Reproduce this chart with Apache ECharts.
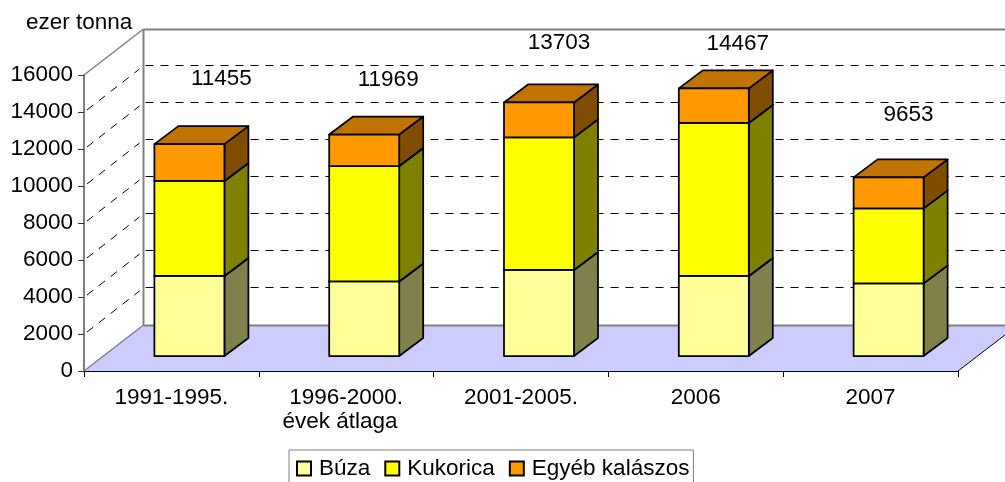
<!DOCTYPE html>
<html>
<head>
<meta charset="utf-8">
<style>html,body{margin:0;padding:0;background:#fff}#c{width:1005px;height:482px}</style>
<script src="https://cdn.jsdelivr.net/npm/echarts@6/dist/echarts.min.js"></script>
</head>
<body>
<div id="c"></div>
<script>
const categories = ['1991-1995.', '1996-2000.\névek átlaga  ', '2001-2005.', '2006', '2007'];
const buza = [4325, 4030, 4650, 4325, 3925];
const kukorica = [5135, 6240, 7165, 8270, 4055];
const egyeb = [1995, 1699, 1888, 1872, 1673];
const totals = [11455, 11969, 13703, 14467, 9653];
const yTicks = [0, 2000, 4000, 6000, 8000, 10000, 12000, 14000, 16000];

const FONT = '"Liberation Sans", Arial, sans-serif';
const FS = 22.5;
const WALL = [60, 46];       // depth of the chart box
const BAR_FRONT = [18, 15];  // shift of a bar's front face from the front edge
const BAR_DEPTH = [24, 18];  // depth of a bar
const BAR_W = 70;
const LABEL_SHIFT = [[50, -80], [42, -70], [38, -74.5], [42, -60], [38, -77.5]];

function wallItem(params, api) {
  const v = api.value(0);
  const c = params.coordSys;
  const y = api.coord([0, v])[1];
  const yZero = api.coord([0, 0])[1];
  const x0 = c.x, x1 = c.x + c.width;
  const bx = x0 + WALL[0] - 0.5;
  const by = Math.round(y - WALL[1]) + 0.5;
  const grey = '#808080';
  const line = (a, b, style) => ({type: 'line', shape: {x1: a[0], y1: a[1], x2: b[0], y2: b[1]}, style: Object.assign({fill: null}, style), silent: true});
  if (v === 0) {
    return {type: 'group', children: [
      {type: 'polygon', shape: {points: [[x0, y], [x1, y], [x1 + WALL[0], y - WALL[1]], [bx, y - WALL[1]]]}, style: {fill: '#CCCCFF'}, silent: true},
      line([x0, y], [bx, y - WALL[1]], {stroke: grey, lineWidth: 1.5}),
      line([bx, by], [1010, by], {stroke: grey, lineWidth: 2}),
      line([x1, y], [x1 + WALL[0], y - WALL[1]], {stroke: '#000', lineWidth: 1})
    ]};
  }
  if (v === yTicks[yTicks.length - 1]) {
    return {type: 'group', children: [
      line([x0, y], [bx, y - WALL[1]], {stroke: grey, lineWidth: 1.5}),
      line([bx, by], [1010, by], {stroke: grey, lineWidth: 2}),
      line([bx, by], [bx, yZero - WALL[1]], {stroke: grey, lineWidth: 2})
    ]};
  }
  const dy = Math.round(y - WALL[1] - 0.6) + 0.5;
  return {type: 'group', children: [
    line([x0 + 3, y - 2], [bx - 4, y - WALL[1] + 3], {stroke: '#000', lineWidth: 1, lineDash: [8, 7]}),
    line([bx + 2, dy], [1010, dy], {stroke: '#000', lineWidth: 1, lineDash: [8, 7]})
  ]};
}

function barRenderer(front, side, top) {
  return function (params, api) {
    const a = api.coord([api.value(0), api.value(1)]);
    const b = api.coord([api.value(0), api.value(2)]);
    const x = a[0] + BAR_FRONT[0] - BAR_W / 2;
    const yb = a[1] - BAR_FRONT[1];
    const yt = b[1] - BAR_FRONT[1];
    const dx = BAR_DEPTH[0], dy = BAR_DEPTH[1];
    const st = {stroke: '#000', lineWidth: 1.75, lineJoin: 'round'};
    return {type: 'group', children: [
      {type: 'polygon', shape: {points: [[x + BAR_W, yb], [x + BAR_W + dx, yb - dy], [x + BAR_W + dx, yt - dy], [x + BAR_W, yt]]}, style: Object.assign({fill: side}, st)},
      {type: 'polygon', shape: {points: [[x, yt], [x + BAR_W, yt], [x + BAR_W + dx, yt - dy], [x + dx, yt - dy]]}, style: Object.assign({fill: top}, st)},
      {type: 'rect', shape: {x: x, y: yt, width: BAR_W, height: yb - yt}, style: Object.assign({fill: front}, st)}
    ]};
  };
}

let acc = categories.map(() => 0);
function stacked(vals) {
  const out = vals.map((v, i) => [i, acc[i], acc[i] + v]);
  acc = acc.map((s, i) => s + vals[i]);
  return out;
}
const buzaData = stacked(buza), kukData = stacked(kukorica), egyebData = stacked(egyeb);

const barSeries = (name, data, front, side, top) => ({
  type: 'custom', name: name, data: data, coordinateSystem: 'cartesian2d',
  encode: {x: 0, y: [1, 2]}, z: 3,
  itemStyle: {color: front, borderColor: '#000', borderWidth: 1.5},
  renderItem: barRenderer(front, side, top)
});

const chart = echarts.init(document.getElementById('c'), null, {renderer: 'canvas'});
chart.setOption({
  animation: false,
  backgroundColor: '#fff',
  textStyle: {fontFamily: FONT},
  title: {text: 'ezer tonna', left: 21, top: 6, textStyle: {fontFamily: FONT, fontSize: FS, fontWeight: 'normal', color: '#000'}},
  grid: {left: 84, right: 47, top: 75, bottom: 111},
  xAxis: {
    type: 'category', data: categories,
    axisLine: {lineStyle: {color: '#000', width: 1}},
    axisTick: {show: true, length: 6, lineStyle: {color: '#000'}},
    axisLabel: {color: '#000', fontSize: FS, fontFamily: FONT, margin: 15, lineHeight: 24, interval: 0}
  },
  yAxis: {
    type: 'value', min: 0, max: 16000, interval: 2000,
    splitLine: {show: false},
    axisLine: {show: true, lineStyle: {color: '#555', width: 1.5}},
    axisTick: {show: true, length: 6, lineStyle: {color: '#333'}},
    axisLabel: {color: '#000', fontSize: FS, fontFamily: FONT, margin: 11, formatter: v => String(v)}
  },
  legend: {
    data: ['Búza', 'Kukorica', 'Egyéb kalászos'],
    left: 289, top: 450, orient: 'horizontal',
    padding: [7, 4, 10, 7],
    itemWidth: 14, itemHeight: 14, itemGap: 14,
    icon: 'rect',
    borderColor: '#808080', borderWidth: 1, backgroundColor: '#fff',
    selectedMode: false,
    textStyle: {fontFamily: FONT, fontSize: FS, color: '#000', padding: [0, 0, 0, 3]}
  },
  series: [
    {type: 'custom', name: 'walls', data: yTicks.map(v => [v]), coordinateSystem: 'cartesian2d', encode: {y: 0}, z: 1, silent: true, renderItem: wallItem},
    barSeries('Búza', buzaData, '#FFFF99', '#80804D', '#C0C073'),
    barSeries('Kukorica', kukData, '#FFFF00', '#808000', '#C0C000'),
    barSeries('Egyéb kalászos', egyebData, '#FF9900', '#804D00', '#C07300'),
    {
      type: 'custom', name: 'totals', data: totals.map((v, i) => [i, v]), coordinateSystem: 'cartesian2d',
      encode: {x: 0, y: 1}, z: 4, silent: true,
      renderItem: function (params, api) {
        const i = api.value(0);
        const p = api.coord([i, api.value(1)]);
        return {type: 'text', x: p[0] + LABEL_SHIFT[i][0], y: p[1] + LABEL_SHIFT[i][1],
          style: {text: String(api.value(1)), fontFamily: FONT, fontSize: FS, fill: '#000', align: 'center', verticalAlign: 'middle'}};
      }
    }
  ]
});
</script>
</body>
</html>
